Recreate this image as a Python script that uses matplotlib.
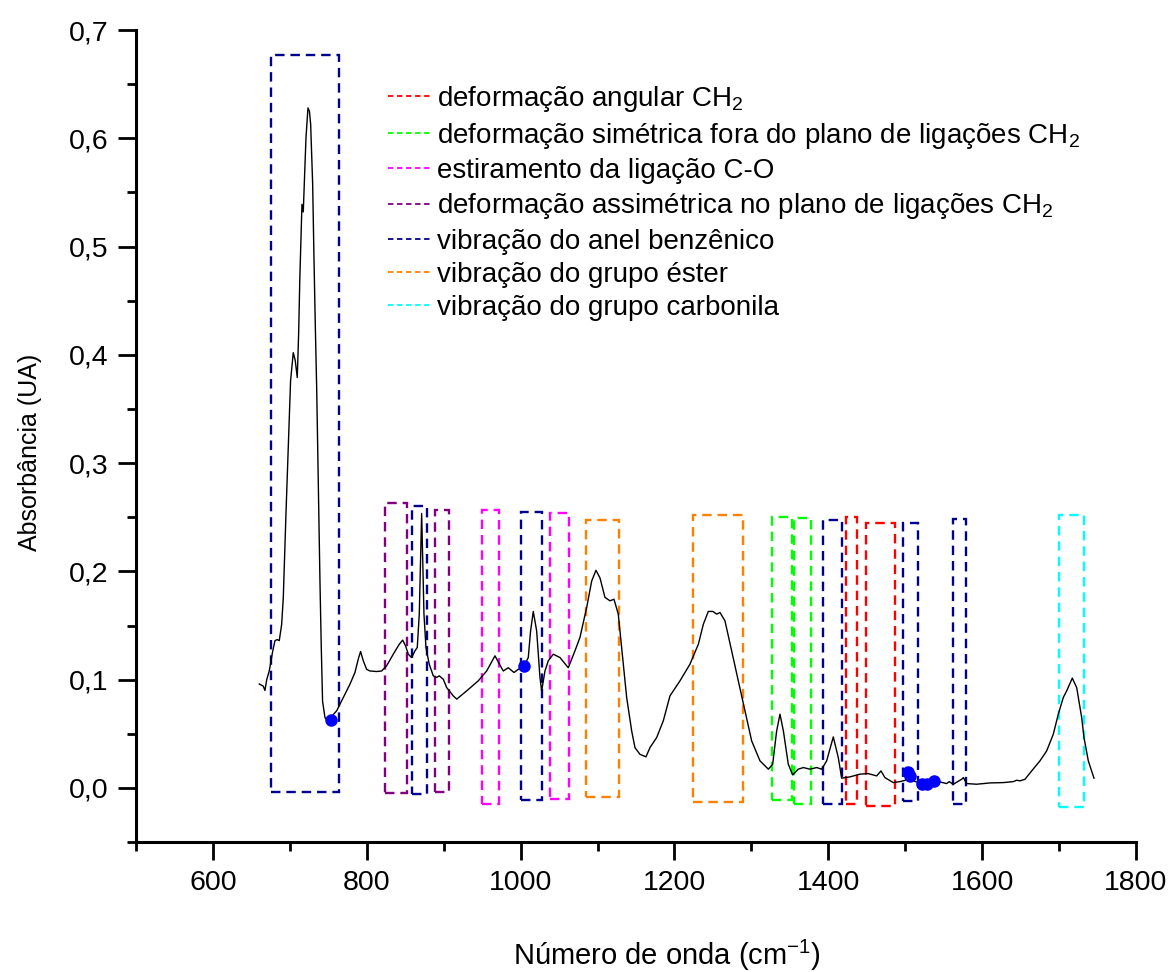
import matplotlib
matplotlib.use("Agg")
import matplotlib.pyplot as plt
from matplotlib.lines import Line2D
from matplotlib.patches import Rectangle
from matplotlib.ticker import FuncFormatter, MultipleLocator

plt.rcParams["font.family"] = ["Liberation Sans", "DejaVu Sans"]
plt.rcParams["mathtext.fontset"] = "custom"
plt.rcParams["mathtext.rm"] = "Liberation Sans"
plt.rcParams["mathtext.default"] = "regular"

# spectrum
wavenumber = [
    660.3, 665.5, 667.7, 670, 673.3, 677.7, 680.7, 683.7, 686.3, 689.4,
    691.5, 695, 698, 701, 704.5, 707, 709.7, 711.5, 713, 714.9,
    715.8, 717.5, 719, 721, 723.6, 725.5, 727.1, 729.7, 731.4, 733.1,
    735, 737, 739.2, 740.9, 742.6, 745.7, 748, 753, 760.9, 769.5,
    778.2, 784.7, 789, 792, 795.5, 799.9, 804.2, 812.9, 819.4, 825.9,
    834.5, 842.3, 846.7, 850.6, 854, 858.4, 862.7, 865.7, 868.3, 871.4,
    874.4, 877, 878.5, 881.3, 886.5, 890.9, 894.3, 899.5, 903.9, 912.5,
    917, 929.9, 945, 955.9, 966.7, 972, 977.5, 984, 991.4, 998,
    1004.8, 1010, 1013, 1016.5, 1020.9, 1025.2, 1027.4, 1031.7, 1036, 1042.5,
    1051.2, 1062, 1070.7, 1077.2, 1085.9, 1092.4, 1098, 1103.2, 1109.7, 1116.2,
    1121.4, 1127, 1131.4, 1137.9, 1144.4, 1148.7, 1155.2, 1163, 1168.2, 1176.9,
    1185.5, 1194.2, 1207.2, 1220.2, 1231.1, 1237.6, 1244, 1250, 1254.9, 1259.2,
    1265.7, 1274.4, 1283, 1291.7, 1300.4, 1311.2, 1322.1, 1327.7, 1332.9, 1337.2,
    1341.6, 1348, 1353.7, 1361, 1367.6, 1376.2, 1384.9, 1391.4, 1397.9, 1406.5,
    1413, 1417.4, 1428.2, 1441.2, 1452, 1462.9, 1468.5, 1473.7, 1484.5, 1493.2,
    1500, 1505, 1512, 1523.5, 1535, 1540, 1553.7, 1557.2, 1562.5, 1573.4,
    1575.6, 1579.9, 1592.9, 1610.2, 1627.5, 1640.5, 1644.9, 1649.2, 1655.7, 1664.4,
    1675.2, 1683.9, 1692.5, 1699, 1705.5, 1709.9, 1717.2, 1722.9, 1729.4, 1732.4,
    1738, 1745.4,
]
absorbance = [
    0.096, 0.094, 0.090, 0.100, 0.108, 0.126, 0.136, 0.137, 0.136, 0.151,
    0.175, 0.253, 0.3145, 0.376, 0.402, 0.395, 0.379, 0.42, 0.47, 0.515,
    0.539, 0.532, 0.56, 0.60, 0.628, 0.625, 0.613, 0.558, 0.49, 0.4286,
    0.367, 0.284, 0.191, 0.130, 0.080, 0.065, 0.0625, 0.065, 0.0712, 0.0835,
    0.0958, 0.1066, 0.119, 0.126, 0.1174, 0.1095, 0.108, 0.1075, 0.108, 0.1128,
    0.1235, 0.1327, 0.1365, 0.131, 0.1235, 0.1204, 0.1266, 0.1297, 0.1605, 0.2535,
    0.1605, 0.1297, 0.124, 0.1142, 0.1035, 0.102, 0.1035, 0.1004, 0.0927, 0.085,
    0.082, 0.0896, 0.0989, 0.108, 0.122, 0.115, 0.108, 0.111, 0.1066, 0.110,
    0.1128, 0.1204, 0.145, 0.163, 0.145, 0.102, 0.0896, 0.108, 0.1174, 0.1235,
    0.1204, 0.111, 0.1266, 0.139, 0.1666, 0.191, 0.201, 0.194, 0.176, 0.1728,
    0.1743, 0.1605, 0.1297, 0.0835, 0.0527, 0.0372, 0.031, 0.0287, 0.0372, 0.0465,
    0.0619, 0.085, 0.0989, 0.1143, 0.1327, 0.1512, 0.163, 0.163, 0.1605, 0.162,
    0.1543, 0.1266, 0.0989, 0.0712, 0.0434, 0.025, 0.0173, 0.0219, 0.0527, 0.0681,
    0.0527, 0.0219, 0.012, 0.0173, 0.0188, 0.0173, 0.0188, 0.0173, 0.025, 0.0471,
    0.028, 0.009, 0.0102, 0.0127, 0.0132, 0.0111, 0.0157, 0.0095, 0.0049, 0.0058,
    0.007, 0.0125, 0.006, 0.004, 0.005, 0.0065, 0.004, 0.0058, 0.0034, 0.008,
    0.0095, 0.004, 0.0034, 0.0046, 0.0049, 0.0058, 0.0071, 0.0065, 0.008, 0.0157,
    0.025, 0.0342, 0.0496, 0.0681, 0.0835, 0.0896, 0.1014, 0.0927, 0.065, 0.0465,
    0.025, 0.009,
]

# marked points
dot_x = [753, 1004.8, 1504, 1506, 1522, 1528, 1538]
dot_y = [0.0628, 0.1128, 0.0145, 0.011, 0.004, 0.004, 0.0065]

# band groups (legend order)
band_labels = [
    "deformação angular CH$_2$",
    "deformação simétrica fora do plano de ligações CH$_2$",
    "estiramento da ligação C-O",
    "deformação assimétrica no plano de ligações CH$_2$",
    "vibração do anel benzênico",
    "vibração do grupo éster",
    "vibração do grupo carbonila",
]
band_colors = ["#ff0000", "#00ff00", "#ff00ff", "#800080", "#000090", "#ff8000", "#00ffff"]

# dashed boxes: x range, y range, group index
box_x0 = [675.5, 824, 859.2, 888.3, 949.8, 1000, 1038.2, 1085, 1223.7, 1327, 1355, 1392.7, 1423, 1449, 1496.7, 1562.5, 1699.5]
box_x1 = [764, 851.8, 877.9, 907.3, 971.5, 1027.3, 1062.9, 1128.3, 1289.5, 1353, 1377, 1418.2, 1437.6, 1487, 1516, 1578.4, 1732.5]
box_top = [0.677, 0.263, 0.260, 0.2566, 0.257, 0.2545, 0.2539, 0.2477, 0.2517, 0.250, 0.249, 0.247, 0.250, 0.245, 0.245, 0.248, 0.2517]
box_bottom = [-0.004, -0.0043, -0.0058, -0.0037, -0.0145, -0.0114, -0.0105, -0.0083, -0.0127, -0.011, -0.015, -0.015, -0.015, -0.017, -0.012, -0.0145, -0.0176]
box_group = [4, 3, 4, 3, 2, 4, 2, 5, 5, 1, 1, 4, 0, 0, 4, 4, 6]

DASH = (0, (4, 2.5))

fig = plt.figure(figsize=(11.71, 9.72), dpi=100)
ax = fig.add_axes([0.1161, 0.1337, 0.854, 0.8354])

for x0, x1, y0, y1, g in zip(box_x0, box_x1, box_bottom, box_top, box_group):
    ax.add_patch(Rectangle((x0, y0), x1 - x0, y1 - y0, fill=False,
                           edgecolor=band_colors[g], linestyle=DASH, linewidth=1.7))

ax.plot(wavenumber, absorbance, color="black", linewidth=1.0)
ax.plot(dot_x, dot_y, "o", color="#0000ff", markersize=8, linestyle="none")

ax.set_xlim(500, 1800)
ax.set_ylim(-0.05, 0.7)
ax.xaxis.set_major_locator(MultipleLocator(200))
ax.xaxis.set_minor_locator(MultipleLocator(100))
ax.yaxis.set_major_locator(MultipleLocator(0.1))
ax.yaxis.set_minor_locator(MultipleLocator(0.05))
ax.yaxis.set_major_formatter(FuncFormatter(lambda v, p: f"{v:.1f}".replace(".", ",")))
ax.xaxis.set_major_formatter(FuncFormatter(lambda v, p: f"{v:.0f}"))

for s in ("top", "right"):
    ax.spines[s].set_visible(False)
for s in ("left", "bottom"):
    ax.spines[s].set_linewidth(2.2)

ax.tick_params(which="major", direction="out", length=13, width=2, labelsize=20.5, pad=7)
ax.tick_params(which="minor", direction="out", length=6.5, width=2)

ax.set_xlabel("Número de onda (cm$^{-1}$)", fontsize=21, va="center")
ax.xaxis.set_label_coords(0.531, -0.139)
ax.set_ylabel("Absorbância (UA)", fontsize=18)
ax.yaxis.set_label_coords(-0.094, 0.48)

handles = [Line2D([], [], color=c, linestyle=(0, (3, 2)), linewidth=1.3) for c in band_colors]
ax.legend(handles, band_labels, loc="upper left", bbox_to_anchor=(0.252, 0.934),
          frameon=False, fontsize=20, handlelength=1.5, handletextpad=0.25,
          labelspacing=0.26, borderpad=0, borderaxespad=0)

fig.savefig("out.png", dpi=100)
